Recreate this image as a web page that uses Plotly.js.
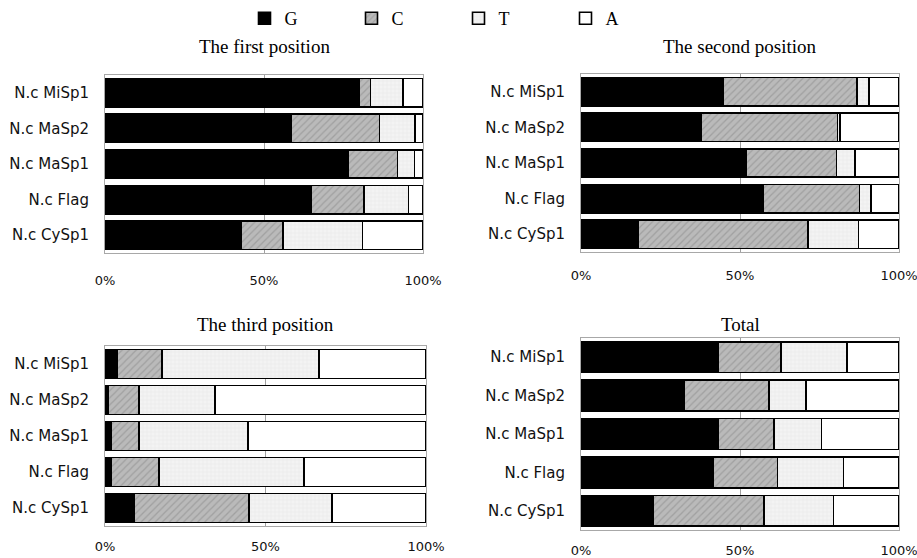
<!DOCTYPE html>
<html>
<head>
<meta charset="utf-8">
<script src="https://cdn.plot.ly/plotly-3.0.1.min.js"></script>
<style>html,body{margin:0;padding:0;background:#fff;}#chart{width:917px;height:558px;}</style>
</head>
<body>
<div id="chart"></div>
<script>
// Categories (top to bottom)
const categories = ['N.c MiSp1', 'N.c MaSp2', 'N.c MaSp1', 'N.c Flag', 'N.c CySp1'];
const bases = ['G', 'C', 'T', 'A'];
const panelTitles = ['The first position', 'The second position', 'The third position', 'Total'];
const tickVals = [0, 50, 100];
const tickText = ['0%', '50%', '100%'];

// Percentages
const firstG = [80.0, 58.5, 76.5, 64.8, 42.7];
const firstC = [3.5, 27.8, 15.5, 16.7, 13.3];
const firstT = [10.3, 11.2, 5.3, 13.9, 25.0];
const firstA = [6.2, 2.5, 2.7, 4.6, 19.0];

const secondG = [44.6, 37.7, 51.9, 57.3, 18.1];
const secondC = [42.2, 43.0, 28.4, 30.3, 53.3];
const secondT = [3.7, 0.8, 5.9, 3.5, 15.8];
const secondA = [9.5, 18.5, 13.8, 8.9, 12.8];

const thirdG = [3.9, 1.1, 2.0, 2.0, 9.2];
const thirdC = [13.9, 9.4, 8.5, 14.8, 35.7];
const thirdT = [48.9, 23.7, 34.1, 45.1, 25.9];
const thirdA = [33.3, 65.8, 55.4, 38.1, 29.2];

const totalG = [43.1, 32.5, 43.1, 41.6, 22.8];
const totalC = [19.7, 26.7, 17.6, 20.2, 34.7];
const totalT = [20.8, 11.6, 14.9, 20.7, 21.9];
const totalA = [16.4, 29.2, 24.4, 17.5, 20.6];

const panels = [
  [firstG, firstC, firstT, firstA],
  [secondG, secondC, secondT, secondA],
  [thirdG, thirdC, thirdT, thirdA],
  [totalG, totalC, totalT, totalA]
];

const styles = {
  G: {color: '#000000', pattern: {shape: ''}},
  C: {color: '#b9b9b9', pattern: {shape: '/', fgcolor: '#a0a0a0', bgcolor: '#bababa', size: 5, solidity: 0.25}},
  T: {color: '#f0f0f0', pattern: {shape: '+', fgcolor: '#d6d6d6', bgcolor: '#f3f3f3', size: 4, solidity: 0.1}},
  A: {color: '#ffffff', pattern: {shape: ''}}
};

const W = 917, H = 558;
const boxes = [
  {x0: 105, x1: 423, y0: 75, y1: 253, stand: 15},
  {x0: 581, x1: 899, y0: 74, y1: 252, stand: 11},
  {x0: 105, x1: 426, y0: 346, y1: 526, stand: 8},
  {x0: 581, x1: 899, y0: 338, y1: 530, stand: 8}
];

const traces = [];
const layout = {
  width: W, height: H,
  margin: {l: 0, r: 0, t: 0, b: 0},
  paper_bgcolor: '#ffffff', plot_bgcolor: '#ffffff',
  barmode: 'stack', bargap: 0.2,
  showlegend: true,
  legend: {orientation: 'h', x: 0.5, xanchor: 'center', y: 1.0, yanchor: 'top',
           font: {family: 'Liberation Serif', size: 18, color: '#000'},
           entrywidth: 62, itemwidth: 30, bgcolor: 'rgba(0,0,0,0)'},
  annotations: [],
  font: {family: 'DejaVu Sans', color: '#111'}
};

panels.forEach((vals, p) => {
  const ax = p === 0 ? '' : String(p + 1);
  const b = boxes[p];
  bases.forEach((base, i) => {
    traces.push({
      type: 'bar', orientation: 'h',
      x: vals[i], y: categories,
      name: base, legendgroup: base, showlegend: p === 0,
      xaxis: 'x' + ax, yaxis: 'y' + ax,
      marker: {color: styles[base].color, pattern: styles[base].pattern,
               line: {color: '#000', width: 1.6}},
      hoverinfo: 'x+y+name'
    });
  });
  layout['xaxis' + ax] = {
    domain: [b.x0 / W, b.x1 / W], range: [0, 100], anchor: 'y' + ax,
    tickvals: tickVals, ticktext: tickText, ticks: '',
    ticklabelstandoff: b.stand, ticklabeloverflow: 'allow',
    tickfont: {family: 'DejaVu Sans', size: 13, color: '#111'},
    showgrid: true, gridcolor: '#a0a0a0', gridwidth: 1,
    showline: true, mirror: true, linecolor: '#a8a8a8', linewidth: 1,
    zeroline: false, fixedrange: true
  };
  layout['yaxis' + ax] = {
    domain: [1 - b.y1 / H, 1 - b.y0 / H], anchor: 'x' + ax,
    type: 'category', autorange: 'reversed',
    ticks: '', ticklabelstandoff: 12,
    tickfont: {family: 'DejaVu Sans', size: 15, color: '#111'},
    showgrid: false, showline: true, mirror: true, linecolor: '#a8a8a8', linewidth: 1,
    zeroline: false, fixedrange: true
  };
  layout.annotations.push({
    text: panelTitles[p], xref: 'paper', yref: 'paper',
    x: (b.x0 + b.x1) / 2 / W, y: 1 - (p < 2 ? 47 : 324) / H,
    xanchor: 'center', yanchor: 'middle', showarrow: false,
    font: {family: 'Liberation Serif', size: 19, color: '#000'}
  });
});

Plotly.newPlot('chart', traces, layout, {displayModeBar: false, staticPlot: true});
</script>
</body>
</html>
